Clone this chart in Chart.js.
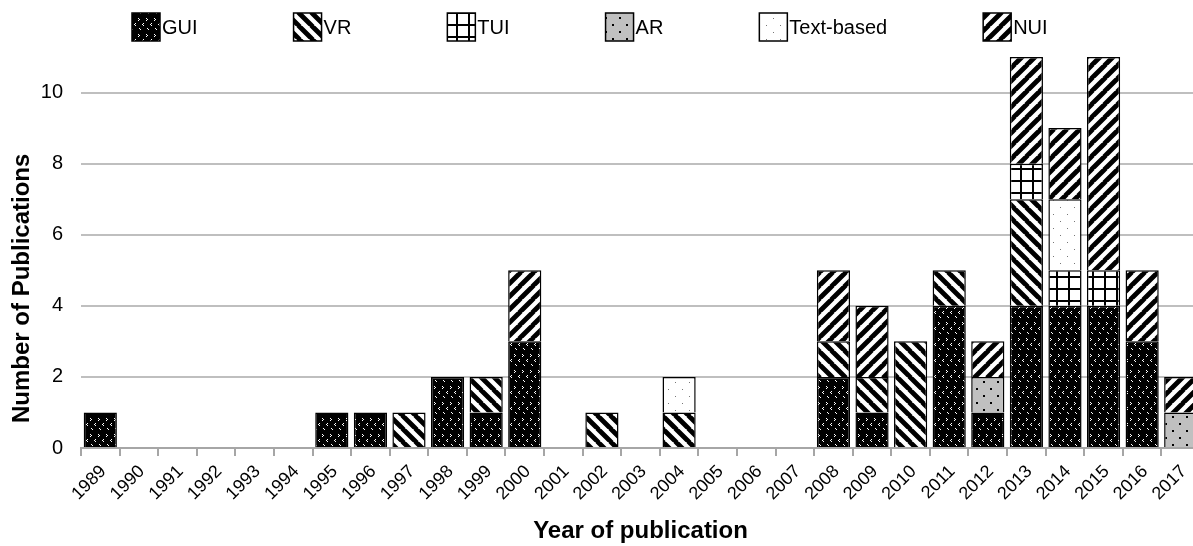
<!DOCTYPE html>
<html>
<head>
<meta charset="utf-8">
<script src="https://cdn.jsdelivr.net/npm/chart.js@4"></script>
<style>
  html, body { margin: 0; padding: 0; background: #fff; overflow: hidden; }
</style>
</head>
<body>
<canvas id="myChart" width="1201" height="546"></canvas>
<script>
const years = ['1989', '1990', '1991', '1992', '1993', '1994', '1995', '1996', '1997', '1998',
  '1999', '2000', '2001', '2002', '2003', '2004', '2005', '2006', '2007', '2008',
  '2009', '2010', '2011', '2012', '2013', '2014', '2015', '2016', '2017'];

// publications per year, by interface type
const gui  = [1, 0, 0, 0, 0, 0, 1, 1, 0, 2, 1, 3, 0, 0, 0, 0, 0, 0, 0, 2, 1, 0, 4, 1, 4, 4, 4, 3, 0];
const vr   = [0, 0, 0, 0, 0, 0, 0, 0, 1, 0, 1, 0, 0, 1, 0, 1, 0, 0, 0, 1, 1, 3, 1, 0, 3, 0, 0, 0, 0];
const tui  = [0, 0, 0, 0, 0, 0, 0, 0, 0, 0, 0, 0, 0, 0, 0, 0, 0, 0, 0, 0, 0, 0, 0, 0, 1, 1, 1, 0, 0];
const ar   = [0, 0, 0, 0, 0, 0, 0, 0, 0, 0, 0, 0, 0, 0, 0, 0, 0, 0, 0, 0, 0, 0, 0, 1, 0, 0, 0, 0, 1];
const text = [0, 0, 0, 0, 0, 0, 0, 0, 0, 0, 0, 0, 0, 0, 0, 1, 0, 0, 0, 0, 0, 0, 0, 0, 0, 2, 0, 0, 0];
const nui  = [0, 0, 0, 0, 0, 0, 0, 0, 0, 0, 0, 2, 0, 0, 0, 0, 0, 0, 0, 2, 2, 0, 0, 1, 3, 2, 6, 2, 1];

const yTicks = [0, 2, 4, 6, 8, 10];

const FONT = '"Liberation Sans", Arial, sans-serif';

// small helper to build canvas fill patterns
function makePattern(size, draw) {
  const c = document.createElement('canvas');
  c.width = size;
  c.height = size;
  const g = c.getContext('2d');
  draw(g, size);
  return g.createPattern(c, 'repeat');
}

const ctx = document.getElementById('myChart').getContext('2d');

const guiFill = makePattern(16, (g, s) => {
  g.fillStyle = '#000';
  g.fillRect(0, 0, s, s);
  g.fillStyle = '#fff';
  g.fillRect(2, 2, 1, 1); g.fillRect(3, 3, 1, 1); g.fillRect(2, 4, 1, 1);
  g.fillRect(10, 2, 1, 1); g.fillRect(11, 3, 1, 1); g.fillRect(10, 4, 1, 1);
  g.fillRect(7, 7, 1, 1); g.fillRect(6, 8, 1, 1); g.fillRect(7, 9, 1, 1);
  g.fillRect(15, 7, 1, 1); g.fillRect(14, 8, 1, 1); g.fillRect(15, 9, 1, 1);
  g.fillRect(3, 12, 1, 1); g.fillRect(4, 13, 1, 1);
  g.fillRect(11, 12, 1, 1); g.fillRect(12, 13, 1, 1);
});

function stripes(dir) {
  return makePattern(13, (g, s) => {
    g.fillStyle = '#fff';
    g.fillRect(0, 0, s, s);
    g.strokeStyle = '#000';
    g.lineWidth = 4.8;
    g.beginPath();
    for (let k = -1; k <= 1; k++) {
      if (dir > 0) { // "/"
        g.moveTo(k * s - 1, s + 1);
        g.lineTo(k * s + s + 1, -1);
      } else {       // "\"
        g.moveTo(k * s - 1, -1);
        g.lineTo(k * s + s + 1, s + 1);
      }
    }
    g.stroke();
  });
}

const vrFill = stripes(-1);
const nuiFill = stripes(1);

const tuiFill = makePattern(12, (g, s) => {
  g.fillStyle = '#fff';
  g.fillRect(0, 0, s, s);
  g.fillStyle = '#000';
  g.fillRect(0, 0, s, 2);
  g.fillRect(0, 0, 2, s);
});

const arFill = makePattern(14, (g, s) => {
  g.fillStyle = '#c0c0c0';
  g.fillRect(0, 0, s, s);
  g.fillStyle = '#000';
  g.fillRect(3, 3, 2, 2);
  g.fillRect(10, 10, 2, 2);
});

const textFill = makePattern(14, (g, s) => {
  g.fillStyle = '#fff';
  g.fillRect(0, 0, s, s);
  g.fillStyle = '#777';
  g.fillRect(3, 4, 1, 1);
  g.fillRect(10, 11, 1, 1);
});

// legend drawn by hand: box, label, then a wide gap, like the original
const patternLegend = {
  id: 'patternLegend',
  afterDraw(chart) {
    const c = chart.ctx;
    const box = 28, gap = 96, y0 = 13;
    let x = 132;
    c.save();
    c.font = '20px ' + FONT;
    chart.data.datasets.forEach(ds => {
      c.fillStyle = ds.backgroundColor;
      c.fillRect(x, y0, box, box);
      c.lineWidth = 1.5;
      c.strokeStyle = '#000';
      c.strokeRect(x, y0, box, box);
      c.fillStyle = '#000';
      c.textBaseline = 'middle';
      c.fillText(ds.label, x + box + 2, y0 + box / 2 + 1);
      x += box + 2 + c.measureText(ds.label).width + gap;
    });
    c.restore();
  }
};

// y title sits a bit below the middle of the plot in the original
const yTitle = {
  id: 'yTitle',
  afterDraw(chart) {
    const c = chart.ctx;
    c.save();
    c.font = 'bold 24px ' + FONT;
    c.fillStyle = '#000';
    c.textAlign = 'left';
    c.textBaseline = 'middle';
    c.translate(22, chart.chartArea.bottom - 25);
    c.rotate(-Math.PI / 2);
    c.fillText('Number of Publications', 0, 0);
    c.restore();
  }
};

function series(label, values, fill) {
  return {
    label: label,
    data: values.map(v => v || null),
    backgroundColor: fill,
    borderColor: '#000',
    borderWidth: 1.5,
    barPercentage: 0.86,
    categoryPercentage: 1
  };
}

const myChart = new Chart(ctx, {
  type: 'bar',
  data: {
    labels: years,
    datasets: [
      series('GUI', gui, guiFill),
      series('VR', vr, vrFill),
      series('TUI', tui, tuiFill),
      series('AR', ar, arFill),
      series('Text-based', text, textFill),
      series('NUI', nui, nuiFill)
    ]
  },
  options: {
    responsive: false,
    animation: false,
    layout: { padding: { top: 57, left: 0, right: 0, bottom: 0 } },
    plugins: {
      legend: { display: false },
      tooltip: { enabled: false }
    },
    scales: {
      x: {
        stacked: true,
        afterFit: axis => { axis.height = 98; },
        grid: {
          offset: true,
          drawOnChartArea: false,
          drawTicks: true,
          tickLength: 8,
          color: '#a6a6a6',
          lineWidth: 2
        },
        border: { color: '#a6a6a6', width: 2 },
        ticks: {
          color: '#000',
          font: { family: FONT, size: 18 },
          minRotation: 45,
          maxRotation: 45,
          autoSkip: false,
          labelOffset: 3,
          padding: 5
        },
        title: {
          display: true,
          text: 'Year of publication',
          color: '#000',
          font: { family: FONT, size: 24, weight: 'bold' },
          padding: { top: 0, bottom: 0 }
        }
      },
      y: {
        stacked: true,
        min: 0,
        max: 11,
        afterBuildTicks: axis => {
          axis.ticks = yTicks.map(v => ({ value: v }));
        },
        afterFit: axis => { axis.width = 81; },
        grid: { color: '#bfbfbf', lineWidth: 2, drawTicks: false },
        border: { display: false },
        ticks: {
          color: '#000',
          font: { family: FONT, size: 20 },
          padding: 18
        }
      }
    }
  },
  plugins: [patternLegend, yTitle]
});
</script>
</body>
</html>
